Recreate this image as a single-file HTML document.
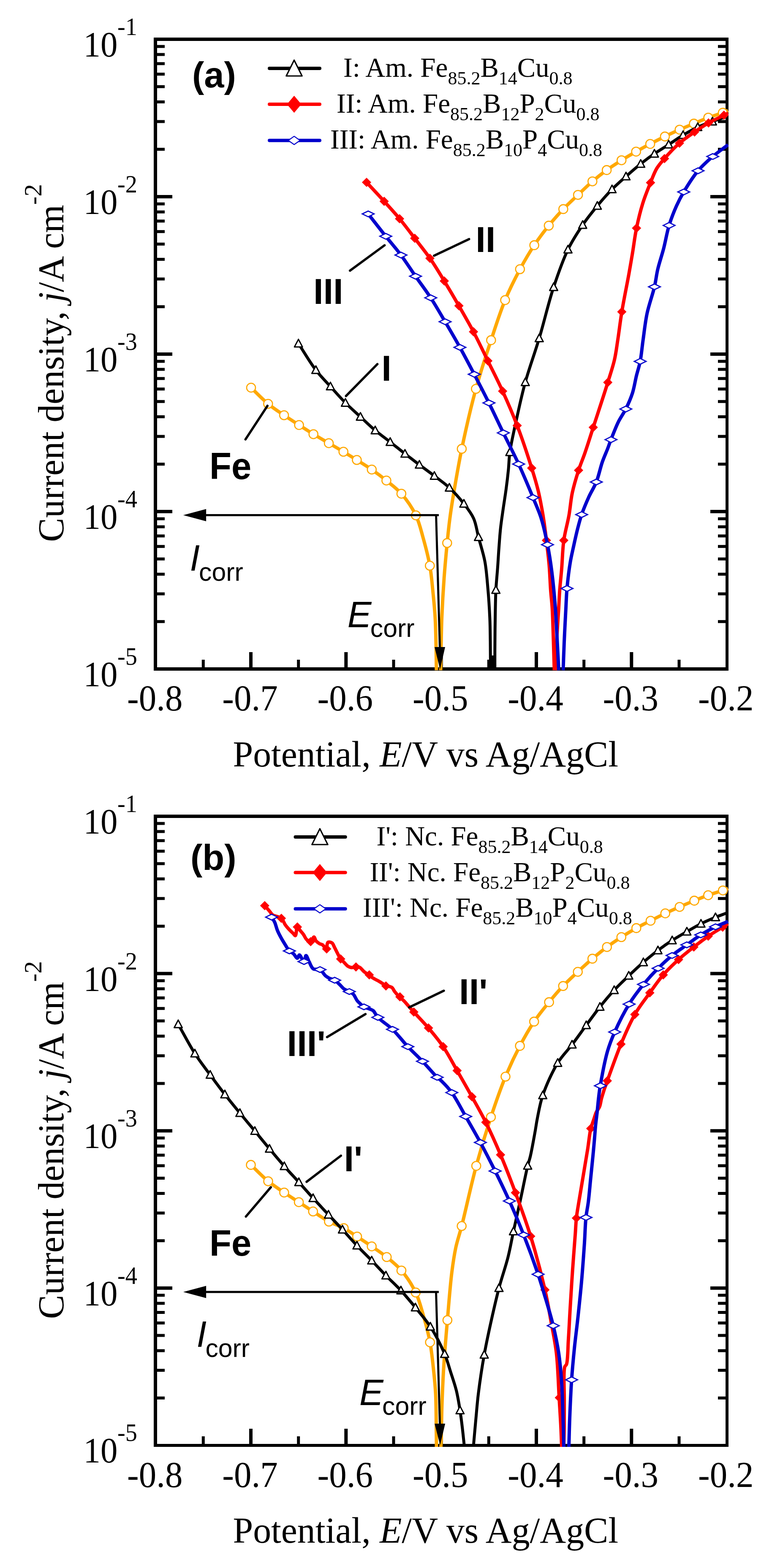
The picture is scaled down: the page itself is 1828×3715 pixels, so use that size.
<!DOCTYPE html><html><head><meta charset="utf-8"><title>Polarization curves</title><style>
*{margin:0;padding:0}
html,body{width:1828px;height:3715px;background:#fff;overflow:hidden}
svg{display:block}
.tl{font-family:"Liberation Serif",serif;font-size:83px}
.ts{font-family:"Liberation Serif",serif;font-size:59px}
.at{font-family:"Liberation Serif",serif;font-size:85.7px}
.lg{font-family:"Liberation Serif",serif;font-size:65px}
.bl{font-family:"Liberation Sans",sans-serif;font-weight:bold;font-size:85px}
.it{font-family:"Liberation Sans",sans-serif;font-style:italic;font-size:85px}
.sc{font-family:"Liberation Sans",sans-serif;font-size:62px}
</style></head><body><svg width="1828" height="3715" viewBox="0 0 1828 3715"><defs><clipPath id="ca"><rect x="364" y="89" width="1361" height="1500"/></clipPath><clipPath id="cb"><rect x="364" y="1930" width="1361" height="1498"/></clipPath></defs>
<rect x="364" y="89" width="8" height="1500"/>
<rect x="1718" y="89" width="7" height="1500"/>
<rect x="364" y="89" width="1361" height="8"/>
<rect x="364" y="1581" width="1361" height="8"/>
<rect x="372" y="350.2" width="18" height="7"/>
<rect x="1700" y="350.2" width="18" height="7"/>
<rect x="372" y="284.5" width="18" height="7"/>
<rect x="1700" y="284.5" width="18" height="7"/>
<rect x="372" y="237.9" width="18" height="7"/>
<rect x="1700" y="237.9" width="18" height="7"/>
<rect x="372" y="201.8" width="18" height="7"/>
<rect x="1700" y="201.8" width="18" height="7"/>
<rect x="372" y="172.2" width="18" height="7"/>
<rect x="1700" y="172.2" width="18" height="7"/>
<rect x="372" y="147.3" width="18" height="7"/>
<rect x="1700" y="147.3" width="18" height="7"/>
<rect x="372" y="125.6" width="18" height="7"/>
<rect x="1700" y="125.6" width="18" height="7"/>
<rect x="372" y="106.6" width="18" height="7"/>
<rect x="1700" y="106.6" width="18" height="7"/>
<rect x="372" y="462" width="36" height="8"/>
<rect x="1682" y="462" width="36" height="8"/>
<rect x="372" y="723.2" width="18" height="7"/>
<rect x="1700" y="723.2" width="18" height="7"/>
<rect x="372" y="657.5" width="18" height="7"/>
<rect x="1700" y="657.5" width="18" height="7"/>
<rect x="372" y="610.9" width="18" height="7"/>
<rect x="1700" y="610.9" width="18" height="7"/>
<rect x="372" y="574.8" width="18" height="7"/>
<rect x="1700" y="574.8" width="18" height="7"/>
<rect x="372" y="545.2" width="18" height="7"/>
<rect x="1700" y="545.2" width="18" height="7"/>
<rect x="372" y="520.3" width="18" height="7"/>
<rect x="1700" y="520.3" width="18" height="7"/>
<rect x="372" y="498.6" width="18" height="7"/>
<rect x="1700" y="498.6" width="18" height="7"/>
<rect x="372" y="479.6" width="18" height="7"/>
<rect x="1700" y="479.6" width="18" height="7"/>
<rect x="372" y="835" width="36" height="8"/>
<rect x="1682" y="835" width="36" height="8"/>
<rect x="372" y="1096.2" width="18" height="7"/>
<rect x="1700" y="1096.2" width="18" height="7"/>
<rect x="372" y="1030.5" width="18" height="7"/>
<rect x="1700" y="1030.5" width="18" height="7"/>
<rect x="372" y="983.9" width="18" height="7"/>
<rect x="1700" y="983.9" width="18" height="7"/>
<rect x="372" y="947.8" width="18" height="7"/>
<rect x="1700" y="947.8" width="18" height="7"/>
<rect x="372" y="918.2" width="18" height="7"/>
<rect x="1700" y="918.2" width="18" height="7"/>
<rect x="372" y="893.3" width="18" height="7"/>
<rect x="1700" y="893.3" width="18" height="7"/>
<rect x="372" y="871.6" width="18" height="7"/>
<rect x="1700" y="871.6" width="18" height="7"/>
<rect x="372" y="852.6" width="18" height="7"/>
<rect x="1700" y="852.6" width="18" height="7"/>
<rect x="372" y="1208" width="36" height="8"/>
<rect x="1682" y="1208" width="36" height="8"/>
<rect x="372" y="1469.2" width="18" height="7"/>
<rect x="1700" y="1469.2" width="18" height="7"/>
<rect x="372" y="1403.5" width="18" height="7"/>
<rect x="1700" y="1403.5" width="18" height="7"/>
<rect x="372" y="1356.9" width="18" height="7"/>
<rect x="1700" y="1356.9" width="18" height="7"/>
<rect x="372" y="1320.8" width="18" height="7"/>
<rect x="1700" y="1320.8" width="18" height="7"/>
<rect x="372" y="1291.2" width="18" height="7"/>
<rect x="1700" y="1291.2" width="18" height="7"/>
<rect x="372" y="1266.3" width="18" height="7"/>
<rect x="1700" y="1266.3" width="18" height="7"/>
<rect x="372" y="1244.6" width="18" height="7"/>
<rect x="1700" y="1244.6" width="18" height="7"/>
<rect x="372" y="1225.6" width="18" height="7"/>
<rect x="1700" y="1225.6" width="18" height="7"/>
<rect x="477.8" y="1563" width="7" height="18"/>
<rect x="590" y="1545" width="8" height="36"/>
<rect x="703.2" y="1563" width="7" height="18"/>
<rect x="815.3" y="1545" width="8" height="36"/>
<rect x="928.5" y="1563" width="7" height="18"/>
<rect x="1040.7" y="1545" width="8" height="36"/>
<rect x="1153.8" y="1563" width="7" height="18"/>
<rect x="1266" y="1545" width="8" height="36"/>
<rect x="1379.2" y="1563" width="7" height="18"/>
<rect x="1491.3" y="1545" width="8" height="36"/>
<rect x="1604.5" y="1563" width="7" height="18"/>
<text transform="translate(197.5 134) scale(0.975 1.03)" class="tl">10</text>
<text transform="translate(278 83) scale(0.955 1.02)" class="ts">-1</text>
<text transform="translate(197.5 507) scale(0.975 1.03)" class="tl">10</text>
<text transform="translate(278 456) scale(0.955 1.02)" class="ts">-2</text>
<text transform="translate(197.5 880) scale(0.975 1.03)" class="tl">10</text>
<text transform="translate(278 829) scale(0.955 1.02)" class="ts">-3</text>
<text transform="translate(197.5 1253) scale(0.975 1.03)" class="tl">10</text>
<text transform="translate(278 1202) scale(0.955 1.02)" class="ts">-4</text>
<text transform="translate(197.5 1626) scale(0.975 1.03)" class="tl">10</text>
<text transform="translate(278 1575) scale(0.955 1.02)" class="ts">-5</text>
<text transform="translate(366.7 1682.8) scale(1 1.035)" class="tl" text-anchor="middle">-0.8</text>
<text transform="translate(592 1682.8) scale(1 1.035)" class="tl" text-anchor="middle">-0.7</text>
<text transform="translate(817.3 1682.8) scale(1 1.035)" class="tl" text-anchor="middle">-0.6</text>
<text transform="translate(1042.7 1682.8) scale(1 1.035)" class="tl" text-anchor="middle">-0.5</text>
<text transform="translate(1268 1682.8) scale(1 1.035)" class="tl" text-anchor="middle">-0.4</text>
<text transform="translate(1493.3 1682.8) scale(1 1.035)" class="tl" text-anchor="middle">-0.3</text>
<text transform="translate(1718.7 1682.8) scale(1 1.035)" class="tl" text-anchor="middle">-0.2</text>
<text x="551.5" y="1815.9" class="at">Potential, <tspan font-style="italic">E</tspan>/V vs Ag/AgCl</text>
<text transform="translate(149.8 1284) rotate(-90)" class="at">Current density, <tspan font-style="italic">j</tspan>/A cm<tspan dy="-52" font-size="59">-2</tspan></text>
<rect x="364" y="1930" width="8" height="1498"/>
<rect x="1718" y="1930" width="7" height="1498"/>
<rect x="364" y="1930" width="1361" height="8"/>
<rect x="364" y="3421" width="1361" height="7"/>
<rect x="372" y="2190.9" width="18" height="7"/>
<rect x="1700" y="2190.9" width="18" height="7"/>
<rect x="372" y="2125.3" width="18" height="7"/>
<rect x="1700" y="2125.3" width="18" height="7"/>
<rect x="372" y="2078.8" width="18" height="7"/>
<rect x="1700" y="2078.8" width="18" height="7"/>
<rect x="372" y="2042.7" width="18" height="7"/>
<rect x="1700" y="2042.7" width="18" height="7"/>
<rect x="372" y="2013.2" width="18" height="7"/>
<rect x="1700" y="2013.2" width="18" height="7"/>
<rect x="372" y="1988.2" width="18" height="7"/>
<rect x="1700" y="1988.2" width="18" height="7"/>
<rect x="372" y="1966.6" width="18" height="7"/>
<rect x="1700" y="1966.6" width="18" height="7"/>
<rect x="372" y="1947.5" width="18" height="7"/>
<rect x="1700" y="1947.5" width="18" height="7"/>
<rect x="372" y="2302.6" width="36" height="8"/>
<rect x="1682" y="2302.6" width="36" height="8"/>
<rect x="372" y="2563.5" width="18" height="7"/>
<rect x="1700" y="2563.5" width="18" height="7"/>
<rect x="372" y="2497.9" width="18" height="7"/>
<rect x="1700" y="2497.9" width="18" height="7"/>
<rect x="372" y="2451.4" width="18" height="7"/>
<rect x="1700" y="2451.4" width="18" height="7"/>
<rect x="372" y="2415.3" width="18" height="7"/>
<rect x="1700" y="2415.3" width="18" height="7"/>
<rect x="372" y="2385.8" width="18" height="7"/>
<rect x="1700" y="2385.8" width="18" height="7"/>
<rect x="372" y="2360.8" width="18" height="7"/>
<rect x="1700" y="2360.8" width="18" height="7"/>
<rect x="372" y="2339.2" width="18" height="7"/>
<rect x="1700" y="2339.2" width="18" height="7"/>
<rect x="372" y="2320.1" width="18" height="7"/>
<rect x="1700" y="2320.1" width="18" height="7"/>
<rect x="372" y="2675.2" width="36" height="8"/>
<rect x="1682" y="2675.2" width="36" height="8"/>
<rect x="372" y="2936.1" width="18" height="7"/>
<rect x="1700" y="2936.1" width="18" height="7"/>
<rect x="372" y="2870.5" width="18" height="7"/>
<rect x="1700" y="2870.5" width="18" height="7"/>
<rect x="372" y="2824" width="18" height="7"/>
<rect x="1700" y="2824" width="18" height="7"/>
<rect x="372" y="2787.9" width="18" height="7"/>
<rect x="1700" y="2787.9" width="18" height="7"/>
<rect x="372" y="2758.4" width="18" height="7"/>
<rect x="1700" y="2758.4" width="18" height="7"/>
<rect x="372" y="2733.4" width="18" height="7"/>
<rect x="1700" y="2733.4" width="18" height="7"/>
<rect x="372" y="2711.8" width="18" height="7"/>
<rect x="1700" y="2711.8" width="18" height="7"/>
<rect x="372" y="2692.7" width="18" height="7"/>
<rect x="1700" y="2692.7" width="18" height="7"/>
<rect x="372" y="3047.8" width="36" height="8"/>
<rect x="1682" y="3047.8" width="36" height="8"/>
<rect x="372" y="3308.7" width="18" height="7"/>
<rect x="1700" y="3308.7" width="18" height="7"/>
<rect x="372" y="3243.1" width="18" height="7"/>
<rect x="1700" y="3243.1" width="18" height="7"/>
<rect x="372" y="3196.6" width="18" height="7"/>
<rect x="1700" y="3196.6" width="18" height="7"/>
<rect x="372" y="3160.5" width="18" height="7"/>
<rect x="1700" y="3160.5" width="18" height="7"/>
<rect x="372" y="3131" width="18" height="7"/>
<rect x="1700" y="3131" width="18" height="7"/>
<rect x="372" y="3106" width="18" height="7"/>
<rect x="1700" y="3106" width="18" height="7"/>
<rect x="372" y="3084.4" width="18" height="7"/>
<rect x="1700" y="3084.4" width="18" height="7"/>
<rect x="372" y="3065.3" width="18" height="7"/>
<rect x="1700" y="3065.3" width="18" height="7"/>
<rect x="477.8" y="3403" width="7" height="18"/>
<rect x="590" y="3385" width="8" height="36"/>
<rect x="703.2" y="3403" width="7" height="18"/>
<rect x="815.3" y="3385" width="8" height="36"/>
<rect x="928.5" y="3403" width="7" height="18"/>
<rect x="1040.7" y="3385" width="8" height="36"/>
<rect x="1153.8" y="3403" width="7" height="18"/>
<rect x="1266" y="3385" width="8" height="36"/>
<rect x="1379.2" y="3403" width="7" height="18"/>
<rect x="1491.3" y="3385" width="8" height="36"/>
<rect x="1604.5" y="3403" width="7" height="18"/>
<text transform="translate(197.5 1975) scale(0.975 1.03)" class="tl">10</text>
<text transform="translate(278 1924) scale(0.955 1.02)" class="ts">-1</text>
<text transform="translate(197.5 2347.6) scale(0.975 1.03)" class="tl">10</text>
<text transform="translate(278 2296.6) scale(0.955 1.02)" class="ts">-2</text>
<text transform="translate(197.5 2720.2) scale(0.975 1.03)" class="tl">10</text>
<text transform="translate(278 2669.2) scale(0.955 1.02)" class="ts">-3</text>
<text transform="translate(197.5 3092.8) scale(0.975 1.03)" class="tl">10</text>
<text transform="translate(278 3041.8) scale(0.955 1.02)" class="ts">-4</text>
<text transform="translate(197.5 3465.4) scale(0.975 1.03)" class="tl">10</text>
<text transform="translate(278 3414.4) scale(0.955 1.02)" class="ts">-5</text>
<text transform="translate(366.7 3522.8) scale(1 1.035)" class="tl" text-anchor="middle">-0.8</text>
<text transform="translate(592 3522.8) scale(1 1.035)" class="tl" text-anchor="middle">-0.7</text>
<text transform="translate(817.3 3522.8) scale(1 1.035)" class="tl" text-anchor="middle">-0.6</text>
<text transform="translate(1042.7 3522.8) scale(1 1.035)" class="tl" text-anchor="middle">-0.5</text>
<text transform="translate(1268 3522.8) scale(1 1.035)" class="tl" text-anchor="middle">-0.4</text>
<text transform="translate(1493.3 3522.8) scale(1 1.035)" class="tl" text-anchor="middle">-0.3</text>
<text transform="translate(1718.7 3522.8) scale(1 1.035)" class="tl" text-anchor="middle">-0.2</text>
<text x="551.5" y="3654.9" class="at">Potential, <tspan font-style="italic">E</tspan>/V vs Ag/AgCl</text>
<text transform="translate(149.8 3125) rotate(-90)" class="at">Current density, <tspan font-style="italic">j</tspan>/A cm<tspan dy="-52" font-size="59">-2</tspan></text>
<g clip-path="url(#ca)">
<path d="M594.5 918.5 C607.9 931.3 621.2 945.6 634.8 956.8 C647.2 967.1 660.1 975.3 672.6 983.8 C684.5 992 696.4 999.4 708.1 1007 C719.6 1014.4 730.6 1021.6 742.2 1028.7 C754.1 1035.9 766.6 1043 778.6 1050 C790.3 1056.8 802 1063.5 813.2 1070.3 C824 1076.8 834.1 1083 844.9 1089.8 C856.4 1097 868.7 1104.4 880.3 1112.5 C892.1 1120.7 903.5 1129.2 914.9 1138.5 C926.8 1148.2 939.4 1157.2 950.4 1169.7 C962.9 1184 976 1203.1 984.7 1221 C993 1238.1 996.7 1255.7 1002 1274.6 C1007.8 1295.3 1013.9 1318.7 1017.8 1340.3 C1021.5 1360.8 1022.9 1380.4 1025 1400.8 C1027.1 1421.6 1029.2 1442.7 1030.4 1464 C1031.7 1485.7 1032 1508.7 1032.5 1530 C1033 1550 1033 1568.7 1033.3 1588" fill="none" stroke="#FFA800" stroke-width="8" stroke-linejoin="round" stroke-linecap="butt"/>
<path d="M1043.5 1588 C1043.8 1568.7 1044.1 1550 1044.5 1530 C1045 1508.7 1045.2 1488 1046.2 1464 C1047.4 1435.2 1049.4 1399.5 1051.6 1369 C1053.7 1340.5 1056.4 1311.5 1058.8 1286.6 C1060.8 1266 1062.6 1248.3 1065 1230 C1067.2 1212.8 1069.1 1200.1 1072.4 1180 C1077.5 1149.2 1085 1104.1 1093.4 1063.4 C1102.8 1018.3 1114.7 966 1126.9 921.3 C1138 880.6 1150.7 842.4 1162.8 805.9 C1173.8 772.6 1183.9 740.3 1196 711 C1206.9 684.7 1219.2 660.4 1231.3 637.8 C1242.3 617.4 1253.3 598.6 1265.1 580.9 C1276.1 564.4 1287.6 549.2 1299.4 534.6 C1310.6 520.7 1322 507.7 1333.8 495.4 C1345.1 483.5 1357 472.7 1368.6 461.7 C1380 450.8 1391.2 439.7 1402.8 429.7 C1413.9 420.1 1425 411.3 1436.6 402.9 C1448 394.6 1460 387.1 1471.7 379.7 C1483.2 372.5 1494.7 365.7 1506.2 359.2 C1517.4 352.8 1528.3 346.9 1539.6 341 C1551 335 1562.8 329.1 1574.4 323.4 C1586 317.8 1597.6 312.3 1609.2 307.2 C1620.5 302.2 1631.7 297.6 1643 292.9 C1654.3 288.1 1665.6 283 1677.1 278.7 C1688.5 274.4 1702.9 270.3 1711.5 267.1 C1716.7 265.2 1719.8 263.7 1724 262" fill="none" stroke="#FFA800" stroke-width="8" stroke-linejoin="round" stroke-linecap="butt"/>
<circle cx="594.5" cy="918.5" r="10.5" fill="#fff" stroke="#FFA800" stroke-width="2.6"/>
<circle cx="634.8" cy="956.8" r="10.5" fill="#fff" stroke="#FFA800" stroke-width="2.6"/>
<circle cx="672.6" cy="983.8" r="10.5" fill="#fff" stroke="#FFA800" stroke-width="2.6"/>
<circle cx="708.1" cy="1007" r="10.5" fill="#fff" stroke="#FFA800" stroke-width="2.6"/>
<circle cx="742.2" cy="1028.7" r="10.5" fill="#fff" stroke="#FFA800" stroke-width="2.6"/>
<circle cx="778.6" cy="1050" r="10.5" fill="#fff" stroke="#FFA800" stroke-width="2.6"/>
<circle cx="813.2" cy="1070.3" r="10.5" fill="#fff" stroke="#FFA800" stroke-width="2.6"/>
<circle cx="844.9" cy="1089.8" r="10.5" fill="#fff" stroke="#FFA800" stroke-width="2.6"/>
<circle cx="880.3" cy="1112.5" r="10.5" fill="#fff" stroke="#FFA800" stroke-width="2.6"/>
<circle cx="914.9" cy="1138.5" r="10.5" fill="#fff" stroke="#FFA800" stroke-width="2.6"/>
<circle cx="950.4" cy="1169.7" r="10.5" fill="#fff" stroke="#FFA800" stroke-width="2.6"/>
<circle cx="984.7" cy="1221" r="10.5" fill="#fff" stroke="#FFA800" stroke-width="2.6"/>
<circle cx="1017.8" cy="1340.3" r="10.5" fill="#fff" stroke="#FFA800" stroke-width="2.6"/>
<circle cx="1058.8" cy="1286.6" r="10.5" fill="#fff" stroke="#FFA800" stroke-width="2.6"/>
<circle cx="1093.4" cy="1063.4" r="10.5" fill="#fff" stroke="#FFA800" stroke-width="2.6"/>
<circle cx="1126.9" cy="921.3" r="10.5" fill="#fff" stroke="#FFA800" stroke-width="2.6"/>
<circle cx="1162.8" cy="805.9" r="10.5" fill="#fff" stroke="#FFA800" stroke-width="2.6"/>
<circle cx="1196" cy="711" r="10.5" fill="#fff" stroke="#FFA800" stroke-width="2.6"/>
<circle cx="1231.3" cy="637.8" r="10.5" fill="#fff" stroke="#FFA800" stroke-width="2.6"/>
<circle cx="1265.1" cy="580.9" r="10.5" fill="#fff" stroke="#FFA800" stroke-width="2.6"/>
<circle cx="1299.4" cy="534.6" r="10.5" fill="#fff" stroke="#FFA800" stroke-width="2.6"/>
<circle cx="1333.8" cy="495.4" r="10.5" fill="#fff" stroke="#FFA800" stroke-width="2.6"/>
<circle cx="1368.6" cy="461.7" r="10.5" fill="#fff" stroke="#FFA800" stroke-width="2.6"/>
<circle cx="1402.8" cy="429.7" r="10.5" fill="#fff" stroke="#FFA800" stroke-width="2.6"/>
<circle cx="1436.6" cy="402.9" r="10.5" fill="#fff" stroke="#FFA800" stroke-width="2.6"/>
<circle cx="1471.7" cy="379.7" r="10.5" fill="#fff" stroke="#FFA800" stroke-width="2.6"/>
<circle cx="1506.2" cy="359.2" r="10.5" fill="#fff" stroke="#FFA800" stroke-width="2.6"/>
<circle cx="1539.6" cy="341" r="10.5" fill="#fff" stroke="#FFA800" stroke-width="2.6"/>
<circle cx="1574.4" cy="323.4" r="10.5" fill="#fff" stroke="#FFA800" stroke-width="2.6"/>
<circle cx="1609.2" cy="307.2" r="10.5" fill="#fff" stroke="#FFA800" stroke-width="2.6"/>
<circle cx="1643" cy="292.9" r="10.5" fill="#fff" stroke="#FFA800" stroke-width="2.6"/>
<circle cx="1677.1" cy="278.7" r="10.5" fill="#fff" stroke="#FFA800" stroke-width="2.6"/>
<circle cx="1711.5" cy="267.1" r="10.5" fill="#fff" stroke="#FFA800" stroke-width="2.6"/>
<path d="M706.7 813.9 C720.4 834.9 734.1 858.8 747.9 876.8 C759.4 891.8 770.8 902.7 782.4 915.6 C794.1 928.6 805.8 942.2 817.9 954.4 C829.5 966.1 841.6 976.6 853.4 987.5 C865.1 998.3 876.5 1009.6 888.4 1019.7 C900 1029.5 912.1 1038 923.9 1047.2 C935.6 1056.4 947.3 1066 958.9 1075.1 C970.3 1084 981.5 1092.4 993 1101.1 C1004.7 1109.9 1016.7 1118.6 1028.5 1127.6 C1040.4 1136.7 1052.7 1144.9 1064 1155.5 C1076.1 1166.7 1088.5 1180.7 1098.4 1193.5 C1107.4 1205.1 1115.9 1215.7 1121.6 1228.6 C1127.6 1242 1128.9 1256.9 1133 1272.5 C1137.6 1290.3 1144.3 1310 1148 1329.6 C1151.8 1349.7 1153.1 1370.2 1155 1391.7 C1157.1 1414.9 1158.8 1441.4 1159.8 1464 C1160.7 1483.8 1160.7 1500.4 1161 1520 C1161.3 1541.6 1161.3 1565.3 1161.5 1588" fill="none" stroke="#000000" stroke-width="7" stroke-linejoin="round" stroke-linecap="butt"/>
<path d="M1171.8 1588 C1171.8 1572 1171.7 1557.5 1171.8 1540 C1171.9 1518.9 1172.1 1493.5 1172.5 1470 C1172.9 1446.1 1173.1 1420 1174.2 1397.8 C1175.2 1378.8 1177.1 1362.1 1178.3 1345.1 C1179.5 1329.1 1180.2 1314 1181.4 1298.5 C1182.5 1283 1183.5 1267.5 1185.2 1252 C1186.9 1236.4 1189.3 1220.9 1191.5 1205.3 C1193.7 1189.8 1196.3 1174.2 1198.4 1158.7 C1200.5 1143.2 1202.4 1127.1 1203.9 1112.1 C1205.3 1098.1 1205 1087.2 1207.3 1071.3 C1210.5 1048.6 1218 1016.5 1224 989 C1230.1 961.2 1235.7 934.8 1243.8 905.6 C1252.9 872.7 1266 837.6 1276.8 801.5 C1288.4 762.7 1298.7 717.3 1311 680.2 C1321.7 648 1332.3 617.2 1344.9 591.2 C1355.6 569.2 1367.6 550.9 1379.7 533 C1390.8 516.6 1402.6 502 1414.4 487.7 C1425.7 474 1437.4 460.6 1449.2 448.6 C1460.1 437.5 1471 428.1 1482.3 418.1 C1493.7 408 1505.5 397.5 1517.1 388.3 C1528 379.6 1538.5 371.8 1549.6 364.2 C1560.6 356.6 1572 349.9 1583.3 342.6 C1594.7 335.2 1605.9 327.1 1617.5 320.1 C1628.9 313.3 1640.4 306.6 1652.2 301.2 C1663.6 296 1675.2 292.3 1687 288 C1699.1 283.6 1711.7 279.3 1724 275" fill="none" stroke="#000000" stroke-width="7" stroke-linejoin="round" stroke-linecap="butt"/>
<path d="M706.7 803.9L716.2 821.9L697.2 821.9Z" fill="#fff" stroke="#000" stroke-width="3" stroke-linejoin="round"/>
<path d="M747.9 866.8L757.4 884.8L738.4 884.8Z" fill="#fff" stroke="#000" stroke-width="3" stroke-linejoin="round"/>
<path d="M782.4 905.6L791.9 923.6L772.9 923.6Z" fill="#fff" stroke="#000" stroke-width="3" stroke-linejoin="round"/>
<path d="M817.9 944.4L827.4 962.4L808.4 962.4Z" fill="#fff" stroke="#000" stroke-width="3" stroke-linejoin="round"/>
<path d="M853.4 977.5L862.9 995.5L843.9 995.5Z" fill="#fff" stroke="#000" stroke-width="3" stroke-linejoin="round"/>
<path d="M888.4 1009.7L897.9 1027.7L878.9 1027.7Z" fill="#fff" stroke="#000" stroke-width="3" stroke-linejoin="round"/>
<path d="M923.9 1037.2L933.4 1055.2L914.4 1055.2Z" fill="#fff" stroke="#000" stroke-width="3" stroke-linejoin="round"/>
<path d="M958.9 1065.1L968.4 1083.1L949.4 1083.1Z" fill="#fff" stroke="#000" stroke-width="3" stroke-linejoin="round"/>
<path d="M993 1091.1L1002.5 1109.1L983.5 1109.1Z" fill="#fff" stroke="#000" stroke-width="3" stroke-linejoin="round"/>
<path d="M1028.5 1117.6L1038 1135.6L1019 1135.6Z" fill="#fff" stroke="#000" stroke-width="3" stroke-linejoin="round"/>
<path d="M1064 1145.5L1073.5 1163.5L1054.5 1163.5Z" fill="#fff" stroke="#000" stroke-width="3" stroke-linejoin="round"/>
<path d="M1098.4 1183.5L1107.9 1201.5L1088.9 1201.5Z" fill="#fff" stroke="#000" stroke-width="3" stroke-linejoin="round"/>
<path d="M1133 1262.5L1142.5 1280.5L1123.5 1280.5Z" fill="#fff" stroke="#000" stroke-width="3" stroke-linejoin="round"/>
<path d="M1174.2 1387.8L1183.7 1405.8L1164.7 1405.8Z" fill="#fff" stroke="#000" stroke-width="3" stroke-linejoin="round"/>
<path d="M1207.3 1061.3L1216.8 1079.3L1197.8 1079.3Z" fill="#fff" stroke="#000" stroke-width="3" stroke-linejoin="round"/>
<path d="M1243.8 895.6L1253.3 913.6L1234.3 913.6Z" fill="#fff" stroke="#000" stroke-width="3" stroke-linejoin="round"/>
<path d="M1276.8 791.5L1286.3 809.5L1267.3 809.5Z" fill="#fff" stroke="#000" stroke-width="3" stroke-linejoin="round"/>
<path d="M1311 670.2L1320.5 688.2L1301.5 688.2Z" fill="#fff" stroke="#000" stroke-width="3" stroke-linejoin="round"/>
<path d="M1344.9 581.2L1354.4 599.2L1335.4 599.2Z" fill="#fff" stroke="#000" stroke-width="3" stroke-linejoin="round"/>
<path d="M1379.7 523L1389.2 541L1370.2 541Z" fill="#fff" stroke="#000" stroke-width="3" stroke-linejoin="round"/>
<path d="M1414.4 477.7L1423.9 495.7L1404.9 495.7Z" fill="#fff" stroke="#000" stroke-width="3" stroke-linejoin="round"/>
<path d="M1449.2 438.6L1458.7 456.6L1439.7 456.6Z" fill="#fff" stroke="#000" stroke-width="3" stroke-linejoin="round"/>
<path d="M1482.3 408.1L1491.8 426.1L1472.8 426.1Z" fill="#fff" stroke="#000" stroke-width="3" stroke-linejoin="round"/>
<path d="M1517.1 378.3L1526.6 396.3L1507.6 396.3Z" fill="#fff" stroke="#000" stroke-width="3" stroke-linejoin="round"/>
<path d="M1549.6 354.2L1559.1 372.2L1540.1 372.2Z" fill="#fff" stroke="#000" stroke-width="3" stroke-linejoin="round"/>
<path d="M1583.3 332.6L1592.8 350.6L1573.8 350.6Z" fill="#fff" stroke="#000" stroke-width="3" stroke-linejoin="round"/>
<path d="M1617.5 310.1L1627 328.1L1608 328.1Z" fill="#fff" stroke="#000" stroke-width="3" stroke-linejoin="round"/>
<path d="M1652.2 291.2L1661.7 309.2L1642.7 309.2Z" fill="#fff" stroke="#000" stroke-width="3" stroke-linejoin="round"/>
<path d="M1687 278L1696.5 296L1677.5 296Z" fill="#fff" stroke="#000" stroke-width="3" stroke-linejoin="round"/>
<path d="M868 432 C881.9 447 896.3 462.3 909.6 477 C922.2 491 934.2 503.9 946.1 518.2 C958.4 533 970.1 548.9 982 564.5 C994 580.2 1006.5 595.3 1018 611.9 C1029.9 629 1040.8 647.4 1052 665.8 C1063.6 684.9 1075.2 704.6 1086.6 724.5 C1098.2 744.7 1109.9 764.8 1121.1 786 C1132.8 808.2 1143.8 831.7 1155.2 854.9 C1166.8 878.6 1178.9 901.9 1190.2 926.8 C1202.1 952.9 1213.6 979.4 1224.6 1008.2 C1236.7 1039.8 1250.1 1080.6 1259 1109.1 C1265.5 1129.7 1270.3 1145.9 1274.4 1162.8 C1278 1177.6 1280.6 1192.1 1283 1205 C1285 1215.8 1286.4 1224 1288 1235 C1290 1248.5 1291.9 1264.3 1293.8 1280.3 C1296 1298.3 1298.5 1318.2 1300.2 1337.7 C1302 1358 1302.6 1381.5 1304 1400 C1305.1 1414.8 1306.5 1424.4 1307.5 1440 C1308.9 1462.1 1309.6 1494.4 1310.5 1520 C1311.3 1543.6 1311.8 1565.3 1312.5 1588" fill="none" stroke="#FF0000" stroke-width="8" stroke-linejoin="round" stroke-linecap="butt"/>
<path d="M1315.5 1588 C1316.3 1565.3 1316.8 1543.6 1318 1520 C1319.3 1494.4 1321.7 1462.1 1323 1440 C1323.9 1424.4 1324.2 1414.3 1325.2 1400 C1326.4 1383.6 1328.5 1365.7 1330 1347 C1331.7 1326 1332 1301.7 1335 1280.2 C1337.9 1259.7 1343.9 1240.1 1347.3 1220.8 C1350.5 1202.5 1351.4 1184.9 1355.2 1167.2 C1359 1149.4 1364.7 1130.7 1370 1114.2 C1374.8 1099.4 1380 1087.8 1385.2 1072.6 C1391.5 1054.5 1397.3 1035.5 1404.7 1012.6 C1414.6 982.1 1430.1 935.5 1439.2 906 C1445.6 885.1 1451 869.8 1455 852.4 C1458.7 836.2 1460.2 822.1 1462.9 805 C1466 784.8 1468.5 762.4 1472.4 738.8 C1476.9 711.3 1484.4 675.4 1489 650 C1492.4 631 1494.7 617.4 1497.6 600 C1500.8 581 1503.1 560.1 1507.2 540.4 C1511.3 520.7 1516.2 500.2 1522 481.7 C1527.4 464.5 1534.3 447.4 1540.3 432.7 C1545.3 420.3 1549.3 408.8 1555.2 398.9 C1560.5 390.1 1566.1 384.1 1573.4 375.7 C1583 364.7 1596.5 350 1608.8 339.3 C1620.3 329.2 1632.8 321 1644.6 312.8 C1655.7 305.1 1666.2 297.9 1677.7 291.3 C1689.4 284.6 1705.9 277.3 1714.2 273.1 C1718.5 270.9 1720.7 269.7 1724 268" fill="none" stroke="#FF0000" stroke-width="8" stroke-linejoin="round" stroke-linecap="butt"/>
<path d="M857 432L868 421L879 432L868 443Z" fill="#FF0000"/>
<path d="M898.6 477L909.6 466L920.6 477L909.6 488Z" fill="#FF0000"/>
<path d="M935.1 518.2L946.1 507.2L957.1 518.2L946.1 529.2Z" fill="#FF0000"/>
<path d="M971 564.5L982 553.5L993 564.5L982 575.5Z" fill="#FF0000"/>
<path d="M1007 611.9L1018 600.9L1029 611.9L1018 622.9Z" fill="#FF0000"/>
<path d="M1041 665.8L1052 654.8L1063 665.8L1052 676.8Z" fill="#FF0000"/>
<path d="M1075.6 724.5L1086.6 713.5L1097.6 724.5L1086.6 735.5Z" fill="#FF0000"/>
<path d="M1110.1 786L1121.1 775L1132.1 786L1121.1 797Z" fill="#FF0000"/>
<path d="M1144.2 854.9L1155.2 843.9L1166.2 854.9L1155.2 865.9Z" fill="#FF0000"/>
<path d="M1179.2 926.8L1190.2 915.8L1201.2 926.8L1190.2 937.8Z" fill="#FF0000"/>
<path d="M1213.6 1008.2L1224.6 997.2L1235.6 1008.2L1224.6 1019.2Z" fill="#FF0000"/>
<path d="M1248 1109.1L1259 1098.1L1270 1109.1L1259 1120.1Z" fill="#FF0000"/>
<path d="M1282.8 1280.3L1293.8 1269.3L1304.8 1280.3L1293.8 1291.3Z" fill="#FF0000"/>
<path d="M1324 1280.2L1335 1269.2L1346 1280.2L1335 1291.2Z" fill="#FF0000"/>
<path d="M1359 1114.2L1370 1103.2L1381 1114.2L1370 1125.2Z" fill="#FF0000"/>
<path d="M1393.7 1012.6L1404.7 1001.6L1415.7 1012.6L1404.7 1023.6Z" fill="#FF0000"/>
<path d="M1428.2 906L1439.2 895L1450.2 906L1439.2 917Z" fill="#FF0000"/>
<path d="M1461.4 738.8L1472.4 727.8L1483.4 738.8L1472.4 749.8Z" fill="#FF0000"/>
<path d="M1496.2 540.4L1507.2 529.4L1518.2 540.4L1507.2 551.4Z" fill="#FF0000"/>
<path d="M1529.3 432.7L1540.3 421.7L1551.3 432.7L1540.3 443.7Z" fill="#FF0000"/>
<path d="M1562.4 375.7L1573.4 364.7L1584.4 375.7L1573.4 386.7Z" fill="#FF0000"/>
<path d="M1597.8 339.3L1608.8 328.3L1619.8 339.3L1608.8 350.3Z" fill="#FF0000"/>
<path d="M1633.6 312.8L1644.6 301.8L1655.6 312.8L1644.6 323.8Z" fill="#FF0000"/>
<path d="M1666.7 291.3L1677.7 280.3L1688.7 291.3L1677.7 302.3Z" fill="#FF0000"/>
<path d="M1703.2 273.1L1714.2 262.1L1725.2 273.1L1714.2 284.1Z" fill="#FF0000"/>
<path d="M871.8 506.8 C885.7 524.5 900 543 913.4 559.8 C925.8 575.3 937.8 588.8 949.4 604.3 C961.3 620.3 972.2 637.7 983.9 654.5 C995.7 671.5 1008.4 687.9 1019.9 705.6 C1031.8 723.8 1042.6 743 1054 762.3 C1065.7 782.1 1077.6 802.4 1089 823 C1100.6 843.9 1111.7 865.2 1123 886.8 C1134.6 909 1146.3 931.7 1157.7 954.6 C1169.3 977.9 1180.2 1001.7 1191.8 1025.6 C1203.6 1050 1216.4 1074.2 1228 1099.4 C1239.9 1125.3 1252.5 1155.6 1262.1 1178.9 C1269.5 1197 1275.7 1209.9 1281.2 1227.3 C1287.3 1246.7 1292.2 1269.3 1296.4 1290.4 C1300.6 1311.4 1303.6 1330.8 1306.5 1353.5 C1309.9 1380 1312.9 1412.7 1315 1440 C1316.9 1464.5 1317.7 1486 1319 1510 C1320.4 1535.3 1321.7 1562 1323 1588" fill="none" stroke="#0000CC" stroke-width="8" stroke-linejoin="round" stroke-linecap="butt"/>
<path d="M1333.5 1588 C1334.3 1565.3 1335 1543.6 1336 1520 C1337.1 1494.4 1338.8 1463 1340 1440 C1340.9 1422.6 1341.1 1410.7 1342.6 1394.3 C1344.4 1374.9 1347.4 1349.5 1350.5 1331.2 C1352.9 1316.9 1355.6 1306.2 1358.4 1293.4 C1361.3 1280 1364.5 1265.3 1367.8 1252.4 C1370.8 1240.7 1373.3 1230.8 1377.3 1219.2 C1381.9 1205.8 1388.6 1190 1394.6 1176.7 C1400.2 1164.4 1407 1154.7 1412 1142 C1417.7 1127.7 1421.3 1108.7 1426.2 1094.6 C1430.3 1082.9 1435.1 1072.6 1438.8 1063.1 C1441.8 1055.3 1443.5 1049.9 1446.7 1041.6 C1451.3 1030 1457.8 1012.7 1464 1000 C1469.6 988.7 1476.4 980.1 1481.8 969.1 C1487.6 957.3 1493.4 944.3 1497.6 931.2 C1501.8 918 1503.8 903.2 1507 890.2 C1509.9 878.3 1513.4 868.8 1515.9 856.2 C1518.9 841 1520.2 822.9 1522.8 805 C1525.6 785.1 1527.8 762.8 1532.3 742 C1536.8 721 1545.3 698.3 1549.7 679.5 C1553.2 664.3 1554.1 652.3 1557.5 637.9 C1561.3 621.9 1567.3 604.8 1571.7 587.7 C1576.2 570.2 1579.1 551.1 1584.3 534.1 C1589.2 518.1 1595.4 502.3 1601.6 488.4 C1607.1 476.2 1611.8 466.9 1619 454.8 C1628.1 439.5 1640.7 419.1 1652.9 404.6 C1663.8 391.6 1675.7 381.2 1687.7 370.8 C1699.4 360.7 1711.9 352.3 1724 343" fill="none" stroke="#0000CC" stroke-width="8" stroke-linejoin="round" stroke-linecap="butt"/>
<path d="M857.8 506.8L871.8 500L885.8 506.8L871.8 513.6Z" fill="#fff" stroke="#0000CC" stroke-width="2.7"/>
<path d="M899.4 559.8L913.4 553L927.4 559.8L913.4 566.6Z" fill="#fff" stroke="#0000CC" stroke-width="2.7"/>
<path d="M935.4 604.3L949.4 597.5L963.4 604.3L949.4 611.1Z" fill="#fff" stroke="#0000CC" stroke-width="2.7"/>
<path d="M969.9 654.5L983.9 647.7L997.9 654.5L983.9 661.3Z" fill="#fff" stroke="#0000CC" stroke-width="2.7"/>
<path d="M1005.9 705.6L1019.9 698.8L1033.9 705.6L1019.9 712.4Z" fill="#fff" stroke="#0000CC" stroke-width="2.7"/>
<path d="M1040 762.3L1054 755.5L1068 762.3L1054 769.1Z" fill="#fff" stroke="#0000CC" stroke-width="2.7"/>
<path d="M1075 823L1089 816.2L1103 823L1089 829.8Z" fill="#fff" stroke="#0000CC" stroke-width="2.7"/>
<path d="M1109 886.8L1123 880L1137 886.8L1123 893.6Z" fill="#fff" stroke="#0000CC" stroke-width="2.7"/>
<path d="M1143.7 954.6L1157.7 947.8L1171.7 954.6L1157.7 961.4Z" fill="#fff" stroke="#0000CC" stroke-width="2.7"/>
<path d="M1177.8 1025.6L1191.8 1018.8L1205.8 1025.6L1191.8 1032.4Z" fill="#fff" stroke="#0000CC" stroke-width="2.7"/>
<path d="M1214 1099.4L1228 1092.6L1242 1099.4L1228 1106.2Z" fill="#fff" stroke="#0000CC" stroke-width="2.7"/>
<path d="M1248.1 1178.9L1262.1 1172.1L1276.1 1178.9L1262.1 1185.7Z" fill="#fff" stroke="#0000CC" stroke-width="2.7"/>
<path d="M1282.4 1290.4L1296.4 1283.6L1310.4 1290.4L1296.4 1297.2Z" fill="#fff" stroke="#0000CC" stroke-width="2.7"/>
<path d="M1328.6 1394.3L1342.6 1387.5L1356.6 1394.3L1342.6 1401.1Z" fill="#fff" stroke="#0000CC" stroke-width="2.7"/>
<path d="M1363.3 1219.2L1377.3 1212.4L1391.3 1219.2L1377.3 1226Z" fill="#fff" stroke="#0000CC" stroke-width="2.7"/>
<path d="M1398 1142L1412 1135.2L1426 1142L1412 1148.8Z" fill="#fff" stroke="#0000CC" stroke-width="2.7"/>
<path d="M1432.7 1041.6L1446.7 1034.8L1460.7 1041.6L1446.7 1048.4Z" fill="#fff" stroke="#0000CC" stroke-width="2.7"/>
<path d="M1467.8 969.1L1481.8 962.3L1495.8 969.1L1481.8 975.9Z" fill="#fff" stroke="#0000CC" stroke-width="2.7"/>
<path d="M1501.9 856.2L1515.9 849.4L1529.9 856.2L1515.9 863Z" fill="#fff" stroke="#0000CC" stroke-width="2.7"/>
<path d="M1535.7 679.5L1549.7 672.7L1563.7 679.5L1549.7 686.3Z" fill="#fff" stroke="#0000CC" stroke-width="2.7"/>
<path d="M1570.3 534.1L1584.3 527.3L1598.3 534.1L1584.3 540.9Z" fill="#fff" stroke="#0000CC" stroke-width="2.7"/>
<path d="M1605 454.8L1619 448L1633 454.8L1619 461.6Z" fill="#fff" stroke="#0000CC" stroke-width="2.7"/>
<path d="M1638.9 404.6L1652.9 397.8L1666.9 404.6L1652.9 411.4Z" fill="#fff" stroke="#0000CC" stroke-width="2.7"/>
<path d="M1673.7 370.8L1687.7 364L1701.7 370.8L1687.7 377.6Z" fill="#fff" stroke="#0000CC" stroke-width="2.7"/>
</g>
<rect x="1158" y="1553" width="16" height="30"/>
<g clip-path="url(#cb)">
<path d="M594 2759.9 C607.7 2772.8 621.2 2787.4 635 2798.7 C647.5 2809 660.5 2817 672.9 2825.5 C684.6 2833.5 696.1 2840.7 707.6 2848.2 C718.9 2855.6 729.7 2862.8 741.3 2870.3 C753.5 2878.2 766.3 2887.6 778.9 2894.3 C790.5 2900.5 802.7 2903.7 813.9 2909.7 C825 2915.6 834.8 2922.8 845.6 2929.8 C856.9 2937.2 868.6 2945 880.2 2953 C892 2961.2 904.2 2969 915.7 2978.3 C927.7 2988 939.7 2997.5 950.5 3010.2 C962.9 3024.8 975.6 3044.3 984.3 3062.3 C992.5 3079.3 996.6 3096.4 1002 3115 C1008 3135.5 1014.2 3158.8 1018.2 3180.2 C1022 3200.5 1023.8 3219.9 1026 3240 C1028.2 3260.4 1030.3 3279.9 1031.5 3301.7 C1032.8 3326.2 1032.7 3356.9 1033 3380 C1033.3 3398.2 1033.3 3412.7 1033.5 3429" fill="none" stroke="#FFA800" stroke-width="8" stroke-linejoin="round" stroke-linecap="butt"/>
<path d="M1044 3429 C1044.3 3419.3 1044.7 3411.8 1045 3400 C1045.5 3381.7 1045.6 3355.3 1046.5 3330 C1047.5 3300.1 1049 3265.4 1051.1 3232.3 C1053.3 3198 1056.3 3163.3 1059.4 3127.8 C1062.6 3090.7 1065.9 3045.8 1069.9 3014.3 C1072.8 2991.6 1075.2 2974.7 1079.2 2956 C1083 2938.3 1087.7 2926.2 1093.2 2904.8 C1102.4 2869.2 1115.5 2807.1 1127.7 2762.2 C1138.7 2721.5 1150.3 2683.3 1162.4 2646.7 C1173.5 2613.1 1184.8 2580.3 1197 2550.8 C1207.8 2524.6 1219.2 2500.5 1231.1 2477.9 C1241.9 2457.3 1252.8 2438.1 1264.7 2420.4 C1275.9 2403.8 1288.3 2388.9 1300.1 2374.4 C1311.1 2360.9 1321.8 2348.2 1333.3 2336.1 C1344.5 2324.3 1356.5 2313.4 1368.2 2302.5 C1379.6 2291.8 1391.1 2281.3 1402.7 2271.4 C1414.1 2261.7 1425.6 2252.3 1437.2 2243.7 C1448.4 2235.3 1459.7 2227.8 1471.3 2220.3 C1482.9 2212.8 1494.9 2205.5 1506.7 2198.9 C1518 2192.6 1529.1 2187.3 1540.5 2181.5 C1552 2175.6 1563.7 2169.5 1575.3 2164 C1586.6 2158.6 1597.8 2153.7 1609.2 2148.7 C1620.7 2143.7 1632.5 2138.6 1644 2133.9 C1655.1 2129.4 1665.6 2125 1676.8 2121 C1688.2 2116.9 1703.1 2112.7 1711.7 2109.7 C1716.9 2107.9 1719.9 2106.6 1724 2105" fill="none" stroke="#FFA800" stroke-width="8" stroke-linejoin="round" stroke-linecap="butt"/>
<circle cx="594" cy="2759.9" r="10.5" fill="#fff" stroke="#FFA800" stroke-width="2.6"/>
<circle cx="635" cy="2798.7" r="10.5" fill="#fff" stroke="#FFA800" stroke-width="2.6"/>
<circle cx="672.9" cy="2825.5" r="10.5" fill="#fff" stroke="#FFA800" stroke-width="2.6"/>
<circle cx="707.6" cy="2848.2" r="10.5" fill="#fff" stroke="#FFA800" stroke-width="2.6"/>
<circle cx="741.3" cy="2870.3" r="10.5" fill="#fff" stroke="#FFA800" stroke-width="2.6"/>
<circle cx="778.9" cy="2894.3" r="10.5" fill="#fff" stroke="#FFA800" stroke-width="2.6"/>
<circle cx="813.9" cy="2909.7" r="10.5" fill="#fff" stroke="#FFA800" stroke-width="2.6"/>
<circle cx="845.6" cy="2929.8" r="10.5" fill="#fff" stroke="#FFA800" stroke-width="2.6"/>
<circle cx="880.2" cy="2953" r="10.5" fill="#fff" stroke="#FFA800" stroke-width="2.6"/>
<circle cx="915.7" cy="2978.3" r="10.5" fill="#fff" stroke="#FFA800" stroke-width="2.6"/>
<circle cx="950.5" cy="3010.2" r="10.5" fill="#fff" stroke="#FFA800" stroke-width="2.6"/>
<circle cx="984.3" cy="3062.3" r="10.5" fill="#fff" stroke="#FFA800" stroke-width="2.6"/>
<circle cx="1018.2" cy="3180.2" r="10.5" fill="#fff" stroke="#FFA800" stroke-width="2.6"/>
<circle cx="1059.4" cy="3127.8" r="10.5" fill="#fff" stroke="#FFA800" stroke-width="2.6"/>
<circle cx="1093.2" cy="2904.8" r="10.5" fill="#fff" stroke="#FFA800" stroke-width="2.6"/>
<circle cx="1127.7" cy="2762.2" r="10.5" fill="#fff" stroke="#FFA800" stroke-width="2.6"/>
<circle cx="1162.4" cy="2646.7" r="10.5" fill="#fff" stroke="#FFA800" stroke-width="2.6"/>
<circle cx="1197" cy="2550.8" r="10.5" fill="#fff" stroke="#FFA800" stroke-width="2.6"/>
<circle cx="1231.1" cy="2477.9" r="10.5" fill="#fff" stroke="#FFA800" stroke-width="2.6"/>
<circle cx="1264.7" cy="2420.4" r="10.5" fill="#fff" stroke="#FFA800" stroke-width="2.6"/>
<circle cx="1300.1" cy="2374.4" r="10.5" fill="#fff" stroke="#FFA800" stroke-width="2.6"/>
<circle cx="1333.3" cy="2336.1" r="10.5" fill="#fff" stroke="#FFA800" stroke-width="2.6"/>
<circle cx="1368.2" cy="2302.5" r="10.5" fill="#fff" stroke="#FFA800" stroke-width="2.6"/>
<circle cx="1402.7" cy="2271.4" r="10.5" fill="#fff" stroke="#FFA800" stroke-width="2.6"/>
<circle cx="1437.2" cy="2243.7" r="10.5" fill="#fff" stroke="#FFA800" stroke-width="2.6"/>
<circle cx="1471.3" cy="2220.3" r="10.5" fill="#fff" stroke="#FFA800" stroke-width="2.6"/>
<circle cx="1506.7" cy="2198.9" r="10.5" fill="#fff" stroke="#FFA800" stroke-width="2.6"/>
<circle cx="1540.5" cy="2181.5" r="10.5" fill="#fff" stroke="#FFA800" stroke-width="2.6"/>
<circle cx="1575.3" cy="2164" r="10.5" fill="#fff" stroke="#FFA800" stroke-width="2.6"/>
<circle cx="1609.2" cy="2148.7" r="10.5" fill="#fff" stroke="#FFA800" stroke-width="2.6"/>
<circle cx="1644" cy="2133.9" r="10.5" fill="#fff" stroke="#FFA800" stroke-width="2.6"/>
<circle cx="1676.8" cy="2121" r="10.5" fill="#fff" stroke="#FFA800" stroke-width="2.6"/>
<circle cx="1711.7" cy="2109.7" r="10.5" fill="#fff" stroke="#FFA800" stroke-width="2.6"/>
<path d="M422 2426.7 C435.1 2449.8 448 2475.1 461.4 2496.1 C473.3 2514.6 485.7 2530.2 497.7 2546.6 C509.3 2562.4 520.6 2577.7 532.4 2592.9 C544.1 2607.9 556.1 2622.6 568 2637.1 C579.8 2651.5 591.7 2665.4 603.4 2679.6 C615 2693.7 626.4 2707.9 638.1 2721.8 C649.7 2735.7 661.4 2749.7 673.2 2763.1 C684.6 2776.1 696.2 2788.3 707.6 2800.9 C718.9 2813.5 729.8 2826 741.3 2838.7 C753.2 2851.7 765.9 2865.2 777.8 2877.9 C789.1 2890 799.8 2901.2 810.9 2913.2 C822.3 2925.6 833.6 2938.8 845.2 2951.1 C856.7 2963.3 868.7 2974.7 880.2 2986.6 C891.6 2998.4 902.4 3010.4 913.8 3022.1 C925.4 3034 937.8 3045.1 949.3 3057.5 C961.1 3070.3 972.2 3083.8 983.6 3097.8 C995.5 3112.4 1008 3126.2 1019 3143.2 C1031.4 3162.4 1044.6 3188.5 1052.9 3208 C1059.3 3223.1 1062.2 3235.4 1066.7 3249.6 C1071.4 3264.3 1076.8 3279.4 1080.6 3294.7 C1084.4 3310.1 1086.9 3326.2 1089.3 3341.6 C1091.6 3356.3 1093.3 3370.5 1095 3385 C1096.7 3399.6 1098.1 3414.3 1099.7 3429" fill="none" stroke="#000000" stroke-width="7" stroke-linejoin="round" stroke-linecap="butt"/>
<path d="M1121 3429 C1121.5 3422.7 1121.8 3417.8 1122.5 3410 C1123.6 3397.3 1125.4 3377.3 1127 3360 C1128.8 3341.3 1130 3323.3 1132.7 3301.7 C1136.1 3274.5 1141.3 3239.2 1146.6 3209.7 C1151.5 3182.1 1157.2 3156.4 1163 3130 C1168.8 3103.8 1174.8 3077.3 1181.5 3051.8 C1188 3027.1 1196.8 3002.7 1202.7 2979.4 C1208.1 2958.1 1211.1 2939.3 1215.8 2917.5 C1221.1 2893 1227.4 2865.6 1233 2839.6 C1238.6 2813.7 1245.1 2780 1249.5 2762 C1251.9 2752.3 1253.5 2749.2 1255.7 2739.9 C1259.3 2724.6 1264.5 2695 1267.5 2678.4 C1269.5 2667.1 1270.1 2661 1272.3 2650 C1275.4 2634.6 1278.5 2614.6 1285.2 2595.1 C1293.4 2571.3 1307.5 2539.7 1320.5 2518.4 C1331 2501.2 1343.4 2489.8 1354.6 2475 C1366 2460 1377.1 2444.1 1388.2 2429 C1399.1 2414.3 1409.5 2399.5 1420.6 2385.5 C1431.5 2371.8 1442.7 2358.4 1454.3 2345.9 C1465.5 2333.9 1477.2 2322.9 1488.8 2311.8 C1500.2 2300.9 1511.7 2290 1523.4 2279.9 C1534.8 2270 1546.3 2260.5 1557.9 2251.7 C1569.1 2243.2 1580.2 2235.4 1591.7 2228 C1603.1 2220.6 1614.9 2213.9 1626.4 2207.3 C1637.6 2200.8 1648.5 2194.3 1659.8 2188.6 C1671.1 2183 1683.1 2177.9 1694.2 2173.3 C1704.4 2169.1 1714.1 2165.8 1724 2162" fill="none" stroke="#000000" stroke-width="7" stroke-linejoin="round" stroke-linecap="butt"/>
<path d="M422 2416.7L431.5 2434.7L412.5 2434.7Z" fill="#fff" stroke="#000" stroke-width="3" stroke-linejoin="round"/>
<path d="M461.4 2486.1L470.9 2504.1L451.9 2504.1Z" fill="#fff" stroke="#000" stroke-width="3" stroke-linejoin="round"/>
<path d="M497.7 2536.6L507.2 2554.6L488.2 2554.6Z" fill="#fff" stroke="#000" stroke-width="3" stroke-linejoin="round"/>
<path d="M532.4 2582.9L541.9 2600.9L522.9 2600.9Z" fill="#fff" stroke="#000" stroke-width="3" stroke-linejoin="round"/>
<path d="M568 2627.1L577.5 2645.1L558.5 2645.1Z" fill="#fff" stroke="#000" stroke-width="3" stroke-linejoin="round"/>
<path d="M603.4 2669.6L612.9 2687.6L593.9 2687.6Z" fill="#fff" stroke="#000" stroke-width="3" stroke-linejoin="round"/>
<path d="M638.1 2711.8L647.6 2729.8L628.6 2729.8Z" fill="#fff" stroke="#000" stroke-width="3" stroke-linejoin="round"/>
<path d="M673.2 2753.1L682.7 2771.1L663.7 2771.1Z" fill="#fff" stroke="#000" stroke-width="3" stroke-linejoin="round"/>
<path d="M707.6 2790.9L717.1 2808.9L698.1 2808.9Z" fill="#fff" stroke="#000" stroke-width="3" stroke-linejoin="round"/>
<path d="M741.3 2828.7L750.8 2846.7L731.8 2846.7Z" fill="#fff" stroke="#000" stroke-width="3" stroke-linejoin="round"/>
<path d="M777.8 2867.9L787.3 2885.9L768.3 2885.9Z" fill="#fff" stroke="#000" stroke-width="3" stroke-linejoin="round"/>
<path d="M810.9 2903.2L820.4 2921.2L801.4 2921.2Z" fill="#fff" stroke="#000" stroke-width="3" stroke-linejoin="round"/>
<path d="M845.2 2941.1L854.7 2959.1L835.7 2959.1Z" fill="#fff" stroke="#000" stroke-width="3" stroke-linejoin="round"/>
<path d="M880.2 2976.6L889.7 2994.6L870.7 2994.6Z" fill="#fff" stroke="#000" stroke-width="3" stroke-linejoin="round"/>
<path d="M913.8 3012.1L923.3 3030.1L904.3 3030.1Z" fill="#fff" stroke="#000" stroke-width="3" stroke-linejoin="round"/>
<path d="M949.3 3047.5L958.8 3065.5L939.8 3065.5Z" fill="#fff" stroke="#000" stroke-width="3" stroke-linejoin="round"/>
<path d="M983.6 3087.8L993.1 3105.8L974.1 3105.8Z" fill="#fff" stroke="#000" stroke-width="3" stroke-linejoin="round"/>
<path d="M1019 3133.2L1028.5 3151.2L1009.5 3151.2Z" fill="#fff" stroke="#000" stroke-width="3" stroke-linejoin="round"/>
<path d="M1052.9 3198L1062.4 3216L1043.4 3216Z" fill="#fff" stroke="#000" stroke-width="3" stroke-linejoin="round"/>
<path d="M1089.3 3331.6L1098.8 3349.6L1079.8 3349.6Z" fill="#fff" stroke="#000" stroke-width="3" stroke-linejoin="round"/>
<path d="M1146.6 3199.7L1156.1 3217.7L1137.1 3217.7Z" fill="#fff" stroke="#000" stroke-width="3" stroke-linejoin="round"/>
<path d="M1181.5 3041.8L1191 3059.8L1172 3059.8Z" fill="#fff" stroke="#000" stroke-width="3" stroke-linejoin="round"/>
<path d="M1215.8 2907.5L1225.3 2925.5L1206.3 2925.5Z" fill="#fff" stroke="#000" stroke-width="3" stroke-linejoin="round"/>
<path d="M1249.5 2752L1259 2770L1240 2770Z" fill="#fff" stroke="#000" stroke-width="3" stroke-linejoin="round"/>
<path d="M1285.2 2585.1L1294.7 2603.1L1275.7 2603.1Z" fill="#fff" stroke="#000" stroke-width="3" stroke-linejoin="round"/>
<path d="M1320.5 2508.4L1330 2526.4L1311 2526.4Z" fill="#fff" stroke="#000" stroke-width="3" stroke-linejoin="round"/>
<path d="M1354.6 2465L1364.1 2483L1345.1 2483Z" fill="#fff" stroke="#000" stroke-width="3" stroke-linejoin="round"/>
<path d="M1388.2 2419L1397.7 2437L1378.7 2437Z" fill="#fff" stroke="#000" stroke-width="3" stroke-linejoin="round"/>
<path d="M1420.6 2375.5L1430.1 2393.5L1411.1 2393.5Z" fill="#fff" stroke="#000" stroke-width="3" stroke-linejoin="round"/>
<path d="M1454.3 2335.9L1463.8 2353.9L1444.8 2353.9Z" fill="#fff" stroke="#000" stroke-width="3" stroke-linejoin="round"/>
<path d="M1488.8 2301.8L1498.3 2319.8L1479.3 2319.8Z" fill="#fff" stroke="#000" stroke-width="3" stroke-linejoin="round"/>
<path d="M1523.4 2269.9L1532.9 2287.9L1513.9 2287.9Z" fill="#fff" stroke="#000" stroke-width="3" stroke-linejoin="round"/>
<path d="M1557.9 2241.7L1567.4 2259.7L1548.4 2259.7Z" fill="#fff" stroke="#000" stroke-width="3" stroke-linejoin="round"/>
<path d="M1591.7 2218L1601.2 2236L1582.2 2236Z" fill="#fff" stroke="#000" stroke-width="3" stroke-linejoin="round"/>
<path d="M1626.4 2197.3L1635.9 2215.3L1616.9 2215.3Z" fill="#fff" stroke="#000" stroke-width="3" stroke-linejoin="round"/>
<path d="M1659.8 2178.6L1669.3 2196.6L1650.3 2196.6Z" fill="#fff" stroke="#000" stroke-width="3" stroke-linejoin="round"/>
<path d="M1694.2 2163.3L1703.7 2181.3L1684.7 2181.3Z" fill="#fff" stroke="#000" stroke-width="3" stroke-linejoin="round"/>
<path d="M626.8 2145.7 C630.5 2149.9 634.5 2154.5 637.9 2158.4 C640.8 2161.7 642 2165.2 645.7 2167.8 C650.6 2171.3 661.1 2171.4 666.2 2175.7 C670.8 2179.6 672.5 2187 675.7 2191.5 C678.3 2195.2 680.7 2197.8 683.6 2201 C686.9 2204.6 691.7 2209.1 694.6 2212 C696.5 2213.9 698.1 2217.1 699.4 2216.7 C701.8 2216 701.7 2196.8 704.1 2196.2 C705.8 2195.8 708.2 2201.4 710.4 2204.1 C712.9 2207.1 715.8 2210.1 718.3 2213.6 C721.1 2217.4 723 2223.2 726.2 2226.2 C728.9 2228.7 732.8 2231.7 735.6 2231 C738.7 2230.2 741.3 2219.7 743.5 2219.9 C745.4 2220 746.1 2226.7 748.3 2229.3 C750.4 2231.9 753.5 2234 756.2 2235.6 C758.7 2237.1 761.6 2237 764 2238.8 C766.9 2240.9 769.9 2248.7 772 2248.3 C774.4 2247.8 773.7 2234.4 776.7 2232.5 C779 2231.1 783.6 2232.3 786.1 2234.1 C789 2236.1 790.2 2241.1 792.4 2245.1 C794.9 2249.9 797.8 2256.1 800.3 2260.9 C802.5 2264.9 804.1 2268.7 806.6 2271.9 C808.9 2274.9 811.7 2277 814.5 2279.8 C817.5 2282.8 820.6 2287.2 824 2289.3 C826.9 2291.1 830.3 2292.4 833.4 2292.4 C836.6 2292.4 839.7 2289.3 842.9 2289.3 C846.1 2289.3 849.4 2290.6 852.4 2292.4 C855.8 2294.5 858.4 2299 861.8 2301.9 C865.2 2304.7 869 2306.9 872.6 2309.5 C876.3 2312.2 879.8 2315.2 883.9 2317.7 C888.2 2320.4 893.1 2322.5 897.9 2325.2 C903 2328.1 908.3 2332.2 913.6 2334.7 C918.4 2337 924.6 2337 928.1 2339.7 C931.2 2342.1 931.9 2345.9 934.4 2349.2 C937.4 2353.1 941.4 2357.7 945.2 2361.5 C948.8 2365.1 952.9 2367.7 956.5 2371.3 C960.3 2375.1 963.7 2379.6 967.5 2383.9 C971.5 2388.4 974.7 2392.1 979.9 2397.8 C988.5 2407.3 1003.3 2422.3 1014.6 2435.6 C1026.4 2449.5 1038.4 2463.7 1049.3 2479.8 C1061.1 2497.2 1071.3 2517.2 1082.4 2536.6 C1094 2556.8 1106.1 2577.9 1117.5 2598.5 C1128.7 2618.7 1139.6 2637.4 1150.3 2659 C1162.2 2682.9 1173.9 2709.1 1185.2 2735.9 C1197.3 2764.5 1209 2794.7 1220.5 2825.8 C1232.8 2858.9 1245.3 2892.6 1256.5 2929 C1268.8 2968.9 1282 3019.3 1290.4 3056.1 C1296.8 3083.9 1300.1 3105.2 1304.6 3130 C1309.1 3155.2 1314.3 3178.6 1317.5 3206.1 C1321.2 3238.3 1322.1 3280.1 1324 3311.5 C1325.5 3336.8 1327 3359.1 1328 3380 C1328.9 3397.7 1329.3 3412.7 1330 3429" fill="none" stroke="#FF0000" stroke-width="8" stroke-linejoin="round" stroke-linecap="butt"/>
<path d="M1335 3429 C1335.3 3412.7 1335.8 3397.5 1336 3380 C1336.2 3359.8 1335.9 3337.4 1336.1 3314.8 C1336.3 3290.4 1333.7 3250 1337.2 3238.7 C1338.3 3235.1 1340.3 3235.7 1341.5 3232.2 C1344.8 3222.6 1344.5 3194.3 1345.9 3173.5 C1347.5 3149.8 1348.6 3123.6 1350.2 3097.4 C1351.9 3069.4 1353.7 3039.4 1355.7 3010.4 C1357.7 2981.4 1360.5 2946.5 1362.2 2923.5 C1363.3 2908.4 1363.4 2898.6 1364.8 2886 C1366.2 2873.2 1368.6 2860.5 1370.7 2847.4 C1372.9 2833.7 1375.4 2819.5 1377.7 2805.5 C1380 2791.5 1382.4 2777.6 1384.7 2763.6 C1387 2749.6 1389.4 2736.1 1391.7 2721.7 C1394.1 2706.3 1395.9 2686.3 1398.9 2673.8 C1400.9 2665.5 1403.4 2660.2 1405.6 2653.6 C1407.7 2647.3 1409.4 2640.5 1412 2635 C1414.2 2630.2 1417.7 2626.9 1419.7 2622 C1422 2616.4 1422.5 2609.3 1424.2 2603 C1425.9 2596.7 1427.7 2590.8 1429.8 2584.2 C1432.2 2576.8 1434.3 2571.1 1438 2560.8 C1445.2 2541 1459 2501 1470.4 2473.7 C1480.8 2448.8 1491.1 2424.5 1503.2 2403.4 C1514 2384.5 1527 2368.5 1538.6 2352.3 C1549.4 2337.4 1559 2322.9 1570.5 2309.7 C1581.8 2296.7 1594.4 2284.7 1606.7 2273.5 C1618.5 2262.8 1630.9 2253.1 1642.9 2243.7 C1654.3 2234.7 1665.5 2226 1677 2218.1 C1688.2 2210.4 1702.4 2202.1 1711.1 2196.8 C1716.4 2193.5 1719.7 2191.6 1724 2189" fill="none" stroke="#FF0000" stroke-width="8" stroke-linejoin="round" stroke-linecap="butt"/>
<path d="M615.8 2145.7L626.8 2134.7L637.8 2145.7L626.8 2156.7Z" fill="#FF0000"/>
<path d="M655.2 2175.7L666.2 2164.7L677.2 2175.7L666.2 2186.7Z" fill="#FF0000"/>
<path d="M693.1 2196.2L704.1 2185.2L715.1 2196.2L704.1 2207.2Z" fill="#FF0000"/>
<path d="M724.6 2231L735.6 2220L746.6 2231L735.6 2242Z" fill="#FF0000"/>
<path d="M762.5 2248.3L773.5 2237.3L784.5 2248.3L773.5 2259.3Z" fill="#FF0000"/>
<path d="M795.6 2271.9L806.6 2260.9L817.6 2271.9L806.6 2282.9Z" fill="#FF0000"/>
<path d="M831.9 2290.9L842.9 2279.9L853.9 2290.9L842.9 2301.9Z" fill="#FF0000"/>
<path d="M863.4 2309.8L874.4 2298.8L885.4 2309.8L874.4 2320.8Z" fill="#FF0000"/>
<path d="M902.9 2336L913.9 2325L924.9 2336L913.9 2347Z" fill="#FF0000"/>
<path d="M936 2361.8L947 2350.8L958 2361.8L947 2372.8Z" fill="#FF0000"/>
<path d="M968.9 2397.8L979.9 2386.8L990.9 2397.8L979.9 2408.8Z" fill="#FF0000"/>
<path d="M1003.6 2435.6L1014.6 2424.6L1025.6 2435.6L1014.6 2446.6Z" fill="#FF0000"/>
<path d="M1038.3 2479.8L1049.3 2468.8L1060.3 2479.8L1049.3 2490.8Z" fill="#FF0000"/>
<path d="M1071.4 2536.6L1082.4 2525.6L1093.4 2536.6L1082.4 2547.6Z" fill="#FF0000"/>
<path d="M1106.5 2598.5L1117.5 2587.5L1128.5 2598.5L1117.5 2609.5Z" fill="#FF0000"/>
<path d="M1139.3 2659L1150.3 2648L1161.3 2659L1150.3 2670Z" fill="#FF0000"/>
<path d="M1174.2 2735.9L1185.2 2724.9L1196.2 2735.9L1185.2 2746.9Z" fill="#FF0000"/>
<path d="M1209.5 2825.8L1220.5 2814.8L1231.5 2825.8L1220.5 2836.8Z" fill="#FF0000"/>
<path d="M1245.5 2929L1256.5 2918L1267.5 2929L1256.5 2940Z" fill="#FF0000"/>
<path d="M1279.4 3056.1L1290.4 3045.1L1301.4 3056.1L1290.4 3067.1Z" fill="#FF0000"/>
<path d="M1313.5 3311.5L1324.5 3300.5L1335.5 3311.5L1324.5 3322.5Z" fill="#FF0000"/>
<path d="M1353.8 2886L1364.8 2875L1375.8 2886L1364.8 2897Z" fill="#FF0000"/>
<path d="M1387.9 2673.8L1398.9 2662.8L1409.9 2673.8L1398.9 2684.8Z" fill="#FF0000"/>
<path d="M1427 2560.8L1438 2549.8L1449 2560.8L1438 2571.8Z" fill="#FF0000"/>
<path d="M1459.4 2473.7L1470.4 2462.7L1481.4 2473.7L1470.4 2484.7Z" fill="#FF0000"/>
<path d="M1492.2 2403.4L1503.2 2392.4L1514.2 2403.4L1503.2 2414.4Z" fill="#FF0000"/>
<path d="M1527.6 2352.3L1538.6 2341.3L1549.6 2352.3L1538.6 2363.3Z" fill="#FF0000"/>
<path d="M1559.5 2309.7L1570.5 2298.7L1581.5 2309.7L1570.5 2320.7Z" fill="#FF0000"/>
<path d="M1595.7 2273.5L1606.7 2262.5L1617.7 2273.5L1606.7 2284.5Z" fill="#FF0000"/>
<path d="M1631.9 2243.7L1642.9 2232.7L1653.9 2243.7L1642.9 2254.7Z" fill="#FF0000"/>
<path d="M1666 2218.1L1677 2207.1L1688 2218.1L1677 2229.1Z" fill="#FF0000"/>
<path d="M1700.1 2196.8L1711.1 2185.8L1722.1 2196.8L1711.1 2207.8Z" fill="#FF0000"/>
<path d="M643.1 2172.9 C645.6 2177 648.3 2180.5 650.5 2185.2 C653 2190.7 654.2 2197.9 656.8 2204.1 C659.4 2210.5 662.9 2217 666.2 2223 C669.3 2228.6 672.5 2233.7 675.7 2238.8 C678.8 2243.7 681.7 2249.5 685.2 2253 C688.1 2255.9 691.6 2256.7 694.6 2259.3 C698 2262.3 701.6 2270.5 704.1 2270.3 C706.1 2270.1 706.8 2262.6 708.8 2262.5 C711.7 2262.4 717.2 2278.6 719.9 2278.2 C722.3 2277.8 722.6 2264.1 724.6 2264 C726.7 2263.8 729.6 2274.6 732.5 2279.8 C735.4 2285.1 737.5 2292.8 742 2295.6 C746.1 2298.2 753.1 2294.9 757.7 2297.2 C762.7 2299.8 766.2 2307.8 770.3 2311.4 C773.5 2314.2 776.3 2315.9 779.8 2317.7 C783.6 2319.6 788.4 2320 792.4 2322.4 C796.9 2325.1 801.2 2329.8 805 2333.4 C808.4 2336.6 810.9 2340.3 814.5 2342.9 C818.2 2345.6 823.3 2347 827.1 2349.2 C830.6 2351.2 833.7 2352.5 836.6 2355.5 C840.2 2359.3 843 2367.4 846.1 2371.3 C848.2 2374 850 2375.4 852.4 2377.6 C855.2 2380.1 858.2 2383.4 861.8 2385.5 C865.5 2387.7 870.5 2388.6 874.4 2390.2 C877.8 2391.6 880.8 2392.1 883.7 2394.6 C887.7 2398 889.5 2404.8 894.7 2410.4 C902.7 2419 918.1 2428 929.4 2438.8 C941.9 2450.8 953.5 2466.9 965.7 2479.8 C977.2 2492 989 2502.5 1000.4 2514.5 C1012.1 2526.7 1026.6 2544.2 1035.1 2552.4 C1039.6 2556.8 1041.9 2557.7 1046.1 2561.8 C1052.7 2568.3 1061.8 2577.5 1069.8 2588.6 C1080.6 2603.6 1091.6 2625.9 1102.7 2645.2 C1114.2 2665.3 1126.1 2685.7 1137.5 2706.8 C1149.3 2728.7 1161 2751.5 1172.4 2774.4 C1183.9 2797.7 1195.2 2820.9 1206.2 2845.4 C1217.8 2871.2 1229 2897.9 1240 2925.8 C1251.7 2955.6 1265.4 2993.4 1274.1 3019.1 C1280.1 3036.9 1283.2 3047.6 1288.3 3064.8 C1294.9 3086.9 1304.1 3116.4 1310 3140.9 C1315.4 3163.4 1319.7 3184.3 1323 3206.1 C1326.2 3227.8 1328 3248.5 1329.6 3271.3 C1331.4 3296.3 1332.1 3323.7 1333 3350 C1333.9 3376.3 1334.3 3402.7 1335 3429" fill="none" stroke="#0000CC" stroke-width="8" stroke-linejoin="round" stroke-linecap="butt"/>
<path d="M1347 3429 C1347.7 3405.4 1348.1 3383.2 1349.1 3358.3 C1350.2 3330.3 1351.6 3297.4 1353.5 3269.1 C1355.3 3243.3 1357.5 3220 1360 3195.2 C1362.5 3170 1365.9 3145.3 1368.7 3119.1 C1371.7 3091.1 1374.9 3061.2 1377.4 3032.2 C1379.9 3003.2 1382.1 2971.6 1383.9 2945.2 C1385.4 2923.2 1385.6 2902.2 1387.5 2884.5 C1389 2870.6 1391.4 2861.1 1393.1 2847.4 C1395.2 2830.7 1396.8 2810.1 1398.7 2791.5 C1400.6 2772.9 1402.7 2752.1 1404.3 2735.6 C1405.6 2722.4 1406.5 2711.7 1407.5 2700 C1408.5 2688.6 1409.2 2677.3 1410.3 2666.2 C1411.4 2655.5 1412.8 2645.1 1414 2634.6 C1415.1 2624.1 1416 2613.4 1417.2 2603 C1418.4 2592.7 1419.1 2585.1 1421.3 2572.5 C1424.9 2551.8 1431.8 2513.8 1438.5 2490.7 C1443.6 2473.1 1448.3 2461.5 1455.5 2445.1 C1464.5 2424.9 1477.4 2398.8 1489.6 2379.1 C1500.3 2361.7 1511.9 2346.8 1523.7 2332.3 C1534.9 2318.6 1546.7 2305.9 1558.4 2294.2 C1569.3 2283.2 1580 2273.1 1591.4 2263.8 C1602.6 2254.6 1614.8 2246.8 1626.3 2238.6 C1637.4 2230.6 1647.9 2222.1 1659.3 2215 C1670.6 2207.9 1682.9 2201.4 1694.2 2195.9 C1704.4 2190.9 1714.1 2187.3 1724 2183" fill="none" stroke="#0000CC" stroke-width="8" stroke-linejoin="round" stroke-linecap="butt"/>
<path d="M629.1 2172.9L643.1 2166.1L657.1 2172.9L643.1 2179.7Z" fill="#fff" stroke="#0000CC" stroke-width="2.7"/>
<path d="M671.2 2253L685.2 2246.2L699.2 2253L685.2 2259.8Z" fill="#fff" stroke="#0000CC" stroke-width="2.7"/>
<path d="M705.9 2278.2L719.9 2271.4L733.9 2278.2L719.9 2285Z" fill="#fff" stroke="#0000CC" stroke-width="2.7"/>
<path d="M743.7 2297.2L757.7 2290.4L771.7 2297.2L757.7 2304Z" fill="#fff" stroke="#0000CC" stroke-width="2.7"/>
<path d="M778.4 2322.4L792.4 2315.6L806.4 2322.4L792.4 2329.2Z" fill="#fff" stroke="#0000CC" stroke-width="2.7"/>
<path d="M813.1 2349.2L827.1 2342.4L841.1 2349.2L827.1 2356Z" fill="#fff" stroke="#0000CC" stroke-width="2.7"/>
<path d="M847.8 2385.5L861.8 2378.7L875.8 2385.5L861.8 2392.3Z" fill="#fff" stroke="#0000CC" stroke-width="2.7"/>
<path d="M880.7 2410.4L894.7 2403.6L908.7 2410.4L894.7 2417.2Z" fill="#fff" stroke="#0000CC" stroke-width="2.7"/>
<path d="M915.4 2438.8L929.4 2432L943.4 2438.8L929.4 2445.6Z" fill="#fff" stroke="#0000CC" stroke-width="2.7"/>
<path d="M951.7 2479.8L965.7 2473L979.7 2479.8L965.7 2486.6Z" fill="#fff" stroke="#0000CC" stroke-width="2.7"/>
<path d="M986.4 2514.5L1000.4 2507.7L1014.4 2514.5L1000.4 2521.3Z" fill="#fff" stroke="#0000CC" stroke-width="2.7"/>
<path d="M1021.1 2552.4L1035.1 2545.6L1049.1 2552.4L1035.1 2559.2Z" fill="#fff" stroke="#0000CC" stroke-width="2.7"/>
<path d="M1055.8 2588.6L1069.8 2581.8L1083.8 2588.6L1069.8 2595.4Z" fill="#fff" stroke="#0000CC" stroke-width="2.7"/>
<path d="M1088.7 2645.2L1102.7 2638.4L1116.7 2645.2L1102.7 2652Z" fill="#fff" stroke="#0000CC" stroke-width="2.7"/>
<path d="M1123.5 2706.8L1137.5 2700L1151.5 2706.8L1137.5 2713.6Z" fill="#fff" stroke="#0000CC" stroke-width="2.7"/>
<path d="M1158.4 2774.4L1172.4 2767.6L1186.4 2774.4L1172.4 2781.2Z" fill="#fff" stroke="#0000CC" stroke-width="2.7"/>
<path d="M1192.2 2845.4L1206.2 2838.6L1220.2 2845.4L1206.2 2852.2Z" fill="#fff" stroke="#0000CC" stroke-width="2.7"/>
<path d="M1226 2925.8L1240 2919L1254 2925.8L1240 2932.6Z" fill="#fff" stroke="#0000CC" stroke-width="2.7"/>
<path d="M1260.1 3019.1L1274.1 3012.3L1288.1 3019.1L1274.1 3025.9Z" fill="#fff" stroke="#0000CC" stroke-width="2.7"/>
<path d="M1296 3140.9L1310 3134.1L1324 3140.9L1310 3147.7Z" fill="#fff" stroke="#0000CC" stroke-width="2.7"/>
<path d="M1339.5 3269.1L1353.5 3262.3L1367.5 3269.1L1353.5 3275.9Z" fill="#fff" stroke="#0000CC" stroke-width="2.7"/>
<path d="M1373.5 2884.5L1387.5 2877.7L1401.5 2884.5L1387.5 2891.3Z" fill="#fff" stroke="#0000CC" stroke-width="2.7"/>
<path d="M1407.7 2572.4L1421.7 2565.6L1435.7 2572.4L1421.7 2579.2Z" fill="#fff" stroke="#0000CC" stroke-width="2.7"/>
<path d="M1441.5 2445.1L1455.5 2438.3L1469.5 2445.1L1455.5 2451.9Z" fill="#fff" stroke="#0000CC" stroke-width="2.7"/>
<path d="M1475.6 2379.1L1489.6 2372.3L1503.6 2379.1L1489.6 2385.9Z" fill="#fff" stroke="#0000CC" stroke-width="2.7"/>
<path d="M1509.7 2332.3L1523.7 2325.5L1537.7 2332.3L1523.7 2339.1Z" fill="#fff" stroke="#0000CC" stroke-width="2.7"/>
<path d="M1544.4 2294.2L1558.4 2287.4L1572.4 2294.2L1558.4 2301Z" fill="#fff" stroke="#0000CC" stroke-width="2.7"/>
<path d="M1577.4 2263.8L1591.4 2257L1605.4 2263.8L1591.4 2270.6Z" fill="#fff" stroke="#0000CC" stroke-width="2.7"/>
<path d="M1612.3 2238.6L1626.3 2231.8L1640.3 2238.6L1626.3 2245.4Z" fill="#fff" stroke="#0000CC" stroke-width="2.7"/>
<path d="M1645.3 2215L1659.3 2208.2L1673.3 2215L1659.3 2221.8Z" fill="#fff" stroke="#0000CC" stroke-width="2.7"/>
<path d="M1680.2 2195.9L1694.2 2189.1L1708.2 2195.9L1694.2 2202.7Z" fill="#fff" stroke="#0000CC" stroke-width="2.7"/>
</g>
<line x1="1039" y1="1220.5" x2="486" y2="1220.5" stroke="#000" stroke-width="5"/>
<path d="M433.9 1220.5L488.1 1206L488.1 1235Z"/>
<line x1="1032.6" y1="1221" x2="1041.5" y2="1535" stroke="#000" stroke-width="5"/>
<path d="M1029 1533L1054 1533L1042 1586Z"/>
<line x1="1039" y1="3061" x2="486" y2="3061" stroke="#000" stroke-width="5"/>
<path d="M433.9 3061L488.1 3046.5L488.1 3075.5Z"/>
<line x1="1032.5" y1="3061" x2="1041.6" y2="3375" stroke="#000" stroke-width="5"/>
<path d="M1029.1 3373L1054.1 3373L1042.1 3424Z"/>
<line x1="633.3" y1="961.5" x2="581.3" y2="1041" stroke="#000" stroke-width="5.5" stroke-linecap="round"/>
<line x1="819.3" y1="938.3" x2="893.6" y2="862.6" stroke="#000" stroke-width="5.5" stroke-linecap="round"/>
<line x1="1027.9" y1="605.7" x2="1110.7" y2="566.4" stroke="#000" stroke-width="5.5" stroke-linecap="round"/>
<line x1="828.7" y1="641.2" x2="910.6" y2="581.1" stroke="#000" stroke-width="5.5" stroke-linecap="round"/>
<line x1="582.3" y1="2882.3" x2="641.3" y2="2812.9" stroke="#000" stroke-width="5.5" stroke-linecap="round"/>
<line x1="726" y1="2800" x2="807.3" y2="2738.1" stroke="#000" stroke-width="5.5" stroke-linecap="round"/>
<line x1="968.8" y1="2386.8" x2="1050.9" y2="2347.3" stroke="#000" stroke-width="5.5" stroke-linecap="round"/>
<line x1="774.5" y1="2457.2" x2="865.4" y2="2402.7" stroke="#000" stroke-width="5.5" stroke-linecap="round"/>
<text x="455" y="206.5" class="bl">(a)</text>
<text transform="translate(496 1135.2) scale(1 1.04)" class="bl">Fe</text>
<text x="903.3" y="902.4" class="bl">I</text>
<text x="1126.2" y="596.7" class="bl">II</text>
<text x="741.9" y="719.8" class="bl">III</text>
<text x="451" y="2061" class="bl">(b)</text>
<text transform="translate(496 2974.8) scale(1 1.02)" class="bl">Fe</text>
<text x="814.5" y="2774.8" class="bl">I'</text>
<text x="1087.1" y="2378.9" class="bl">II'</text>
<text x="679.6" y="2501.7" class="bl">III'</text>
<text transform="translate(449.5 1351.9) scale(1 1.03)" class="it">I</text>
<text transform="translate(471 1375.9) scale(0.98 1)" class="sc">corr</text>
<text transform="translate(822.7 1486) scale(1 1.03)" class="it">E</text>
<text transform="translate(876.8 1508.8) scale(0.98 1)" class="sc">corr</text>
<text transform="translate(465.6 3190.9) scale(1 1.03)" class="it">I</text>
<text transform="translate(486.4 3214.9) scale(0.98 1)" class="sc">corr</text>
<text transform="translate(850.9 3328.5) scale(1 1.03)" class="it">E</text>
<text transform="translate(905 3351.7) scale(0.98 1)" class="sc">corr</text>
<line x1="638" y1="162" x2="757" y2="162" stroke="#000000" stroke-width="8" stroke-linecap="round"/>
<line x1="638" y1="247" x2="757" y2="247" stroke="#FF0000" stroke-width="8" stroke-linecap="round"/>
<line x1="638" y1="332.7" x2="757" y2="332.7" stroke="#0000CC" stroke-width="8" stroke-linecap="round"/>
<path d="M696.5 142.5L715.2 180L677.8 180Z" fill="#fff" stroke="#000" stroke-width="3.2" stroke-linejoin="round"/>
<path d="M679.5 247L696.5 226.7L713.5 247L696.5 267.3Z" fill="#FF0000"/>
<path d="M682.5 332.7L696.5 322.9L710.5 332.7L696.5 342.5Z" fill="#fff" stroke="#0000CC" stroke-width="2.3" stroke-linejoin="round"/>
<text x="813" y="181.8" class="lg">I: Am. Fe<tspan dy="18" font-size="44">85.2</tspan><tspan dy="-18">B</tspan><tspan dy="18" font-size="44">14</tspan><tspan dy="-18">Cu</tspan><tspan dy="18" font-size="44">0.8</tspan></text>
<text x="797" y="266.9" class="lg">II: Am. Fe<tspan dy="18" font-size="44">85.2</tspan><tspan dy="-18">B</tspan><tspan dy="18" font-size="44">12</tspan><tspan dy="-18">P</tspan><tspan dy="18" font-size="44">2</tspan><tspan dy="-18">Cu</tspan><tspan dy="18" font-size="44">0.8</tspan></text>
<text x="782" y="352.1" class="lg">III: Am. Fe<tspan dy="18" font-size="44">85.2</tspan><tspan dy="-18">B</tspan><tspan dy="18" font-size="44">10</tspan><tspan dy="-18">P</tspan><tspan dy="18" font-size="44">4</tspan><tspan dy="-18">Cu</tspan><tspan dy="18" font-size="44">0.8</tspan></text>
<line x1="699.5" y1="1983" x2="817.7" y2="1983" stroke="#000000" stroke-width="8" stroke-linecap="round"/>
<line x1="699.5" y1="2067.3" x2="817.7" y2="2067.3" stroke="#FF0000" stroke-width="8" stroke-linecap="round"/>
<line x1="699.5" y1="2153.2" x2="817.7" y2="2153.2" stroke="#0000CC" stroke-width="8" stroke-linecap="round"/>
<path d="M757.4 1963.5L776.1 2001L738.7 2001Z" fill="#fff" stroke="#000" stroke-width="3.2" stroke-linejoin="round"/>
<path d="M740.4 2067.3L757.4 2047L774.4 2067.3L757.4 2087.6Z" fill="#FF0000"/>
<path d="M743.4 2153.2L757.4 2143.4L771.4 2153.2L757.4 2163Z" fill="#fff" stroke="#0000CC" stroke-width="2.3" stroke-linejoin="round"/>
<text x="891.5" y="2003" class="lg">I': Nc. Fe<tspan dy="18" font-size="44">85.2</tspan><tspan dy="-18">B</tspan><tspan dy="18" font-size="44">14</tspan><tspan dy="-18">Cu</tspan><tspan dy="18" font-size="44">0.8</tspan></text>
<text x="875.4" y="2088" class="lg">II': Nc. Fe<tspan dy="18" font-size="44">85.2</tspan><tspan dy="-18">B</tspan><tspan dy="18" font-size="44">12</tspan><tspan dy="-18">P</tspan><tspan dy="18" font-size="44">2</tspan><tspan dy="-18">Cu</tspan><tspan dy="18" font-size="44">0.8</tspan></text>
<text x="859" y="2172" class="lg">III': Nc. Fe<tspan dy="18" font-size="44">85.2</tspan><tspan dy="-18">B</tspan><tspan dy="18" font-size="44">10</tspan><tspan dy="-18">P</tspan><tspan dy="18" font-size="44">4</tspan><tspan dy="-18">Cu</tspan><tspan dy="18" font-size="44">0.8</tspan></text></svg></body></html>
